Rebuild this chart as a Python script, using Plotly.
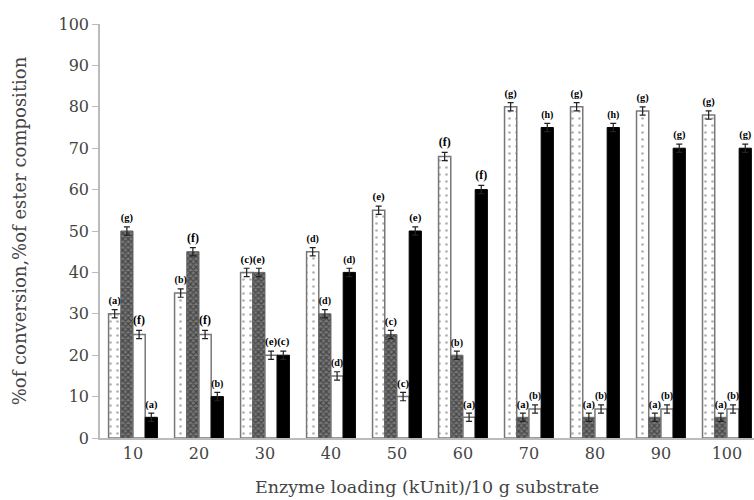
import plotly.graph_objects as go

categories = ["10", "20", "30", "40", "50", "60", "70", "80", "90", "100"]

conv = [30, 35, 40, 45, 55, 68, 80, 80, 79, 78]
conv_lbl = ["a", "b", "c", "d", "e", "f", "g", "g", "g", "g"]

s2 = [50, 45, 40, 30, 25, 20, 5, 5, 5, 5]
s2_lbl = ["g", "f", "e", "d", "c", "b", "a", "a", "a", "a"]

s3 = [25, 25, 20, 15, 10, 5, 7, 7, 7, 7]
s3_lbl = ["f", "f", "e", "d", "c", "a", "b", "b", "b", "b"]

s4 = [5, 10, 20, 40, 50, 60, 75, 75, 70, 70]
s4_lbl = ["a", "b", "c", "d", "e", "f", "h", "h", "g", "g"]

err = 1.0
FONT = "DejaVu Serif, serif"
LFONT = "Liberation Serif, DejaVu Serif, serif"
TXT = "#444"

series = [
    (conv, conv_lbl, dict(color="white", line=dict(color="#777", width=1.5),
                          pattern=dict(shape=".", fgcolor="#666", bgcolor="white", size=7, solidity=0.12))),
    (s2, s2_lbl, dict(color="#666", line=dict(color="#666", width=1),
                      pattern=dict(shape="x", fgcolor="#111", bgcolor="#777", size=4, solidity=0.5))),
    (s3, s3_lbl, dict(color="white", line=dict(color="#777", width=1.5))),
    (s4, s4_lbl, dict(color="black", line=dict(color="black", width=1))),
]

fig = go.Figure()
for i, (vals, lbls, marker) in enumerate(series):
    fig.add_trace(go.Bar(
        x=categories, y=vals, marker=marker, offsetgroup=str(i),
        error_y=dict(type="constant", value=err, color="#222", thickness=1.2, width=3),
        showlegend=False,
    ))
for i, (vals, lbls, marker) in enumerate(series):
    fig.add_trace(go.Bar(
        x=categories, y=[v + err for v in vals], offsetgroup=str(i),
        marker=dict(color="rgba(0,0,0,0)", line=dict(width=0)),
        text=["(" + l + ")" for l in lbls], textposition="outside",
        textfont=dict(family=LFONT, size=12, color="black", weight="bold"),
        cliponaxis=False, showlegend=False, hoverinfo="skip",
    ))

fig.update_layout(
    width=754, height=500,
    margin=dict(l=100, r=0, t=24, b=62),
    barmode="group", bargap=0.26, bargroupgap=0,
    plot_bgcolor="white", paper_bgcolor="white",
    font=dict(family=FONT, size=16, color=TXT),
    uniformtext=dict(mode=False),
)
fig.update_xaxes(
    type="category", range=[-0.5, 9.41],
    showline=True, linecolor="#bbb", linewidth=1.5, ticks="",
    showgrid=False, tickfont=dict(family=FONT, size=16, color=TXT),
    title=dict(text="Enzyme loading (kUnit)/10 g substrate", standoff=19,
               font=dict(family=FONT, size=17.5, color=TXT)),
)
fig.update_yaxes(
    range=[0, 100], dtick=10, showline=True, linecolor="#bbb", linewidth=1.5,
    ticks="outside", ticklen=6, tickcolor="#bbb", showgrid=False,
    tickfont=dict(family=FONT, size=16, color=TXT),
    title=dict(text="%of conversion,%of ester composition", standoff=27,
               font=dict(family=FONT, size=18, color=TXT)),
)

fig.write_html("out.html")
